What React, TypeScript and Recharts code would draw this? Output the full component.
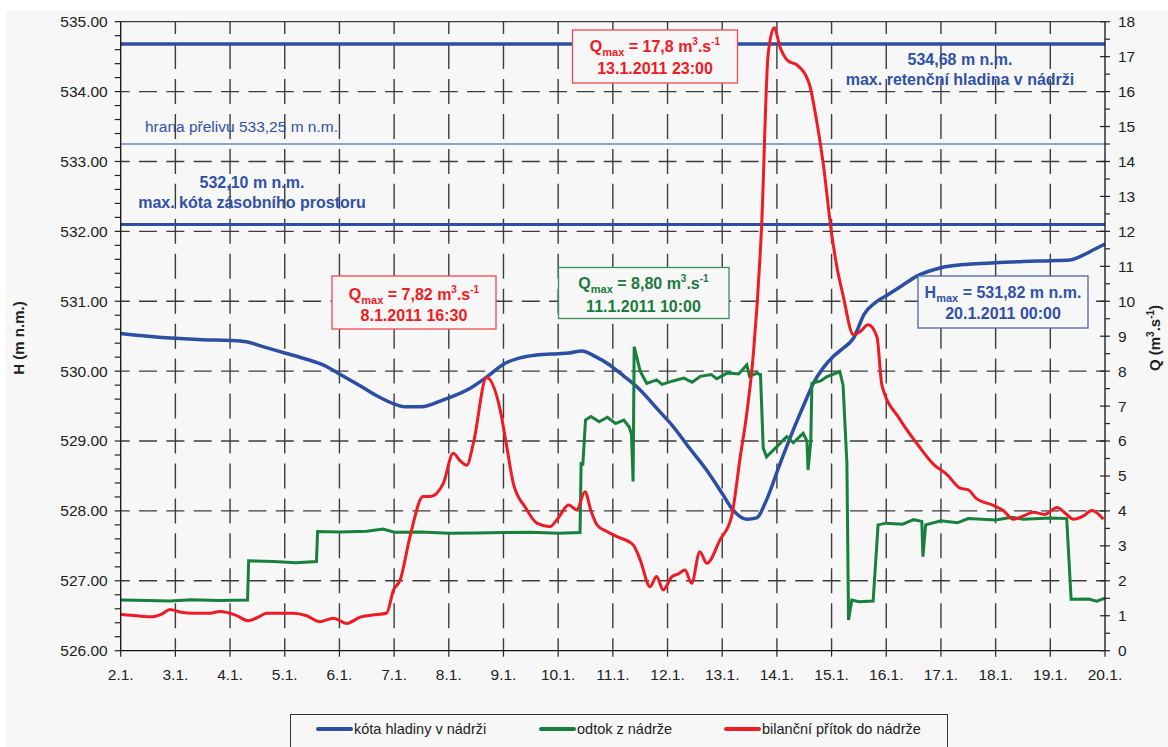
import React from 'react'
import { LineChart, Line, XAxis, YAxis, ReferenceLine } from 'recharts'

const FONT = '"Liberation Sans", Arial, sans-serif'
const BLUE = '#2c4ea3'
const GREEN = '#17803b'
const RED = '#ef1b24'
const GRID = '#3c3c3c'

// x axis: day of January 2011
const dayTicks = [2, 3, 4, 5, 6, 7, 8, 9, 10, 11, 12, 13, 14, 15, 16, 17, 18, 19, 20]
const hLabels = [526, 527, 528, 529, 530, 531, 532, 533, 534, 535]

// kóta hladiny v nádrži (m n.m.)
const levelDays = [
  2.0, 2.5, 3.0, 3.5, 4.0, 4.3, 4.6, 5.0, 5.4, 5.7, 6.0, 6.4, 6.7, 7.0, 7.2, 7.5, 7.9, 8.4, 8.7, 9.0,
  9.3, 9.6, 10.0, 10.2, 10.43, 10.7, 10.9, 11.2, 11.5, 11.8, 12.1, 12.4, 12.7, 13.0, 13.2, 13.45, 13.63,
  13.8, 14.05, 14.3, 14.5, 14.67, 14.85, 15.03, 15.2, 15.4, 15.6, 15.8, 16.0, 16.3, 16.56, 17.0, 17.5,
  18.0, 18.5, 19.0, 19.35, 19.6, 19.8, 20.0,
]
const levelValues = [
  530.54, 530.5, 530.47, 530.45, 530.44, 530.42, 530.35, 530.26, 530.17, 530.09, 529.96, 529.78, 529.64,
  529.53, 529.49, 529.49, 529.59, 529.76, 529.92, 530.1, 530.19, 530.23, 530.25, 530.26, 530.29, 530.2,
  530.11, 529.93, 529.73, 529.47, 529.21, 528.9, 528.6, 528.25, 528.01, 527.88, 527.9, 528.14, 528.66,
  529.16, 529.53, 529.83, 530.05, 530.21, 530.32, 530.47, 530.82, 530.98, 531.08, 531.23, 531.36, 531.48,
  531.53, 531.55, 531.57, 531.58, 531.59, 531.66, 531.74, 531.82,
]

// odtok z nádrže (m3/s)
const outflowDays = [
  2.0, 2.5, 2.9, 3.3, 3.8, 4.32, 4.34, 4.8, 5.2, 5.58, 5.6, 6.0, 6.5, 6.8, 7.0, 7.5, 8.0, 8.5, 9.0, 9.5,
  10.0, 10.4, 10.42, 10.45, 10.5, 10.6, 10.75, 10.9, 11.05, 11.2, 11.3, 11.34, 11.37, 11.39, 11.5, 11.62,
  11.8, 11.9, 12.1, 12.3, 12.45, 12.6, 12.8, 12.9, 13.1, 13.3, 13.45, 13.5, 13.63, 13.7, 13.75, 13.81,
  14.0, 14.18, 14.3, 14.48, 14.55, 14.57, 14.62, 14.64, 14.8, 14.91, 15.15, 15.21, 15.28, 15.31, 15.37,
  15.5, 15.76, 15.85, 16.0, 16.3, 16.5, 16.65, 16.67, 16.72, 17.0, 17.3, 17.5, 18.0, 18.3, 18.5, 19.0,
  19.3, 19.38, 19.7, 19.85, 20.0,
]
const outflowValues = [
  1.45, 1.44, 1.42, 1.46, 1.44, 1.45, 2.57, 2.55, 2.52, 2.55, 3.41, 3.4, 3.42, 3.48, 3.39, 3.4, 3.36, 3.37,
  3.38, 3.39, 3.36, 3.38, 5.4, 5.3, 6.6, 6.7, 6.55, 6.68, 6.5, 6.6, 6.4, 6.2, 4.84, 8.7, 8.0, 7.65, 7.75,
  7.62, 7.72, 7.8, 7.68, 7.85, 7.9, 7.78, 7.95, 7.92, 8.18, 7.85, 7.94, 7.9, 5.8, 5.55, 5.84, 6.13, 5.95,
  6.22, 6.0, 5.17, 6.0, 7.65, 7.72, 7.84, 7.99, 7.6, 5.36, 0.88, 1.45, 1.4, 1.42, 3.6, 3.65, 3.62, 3.75,
  3.7, 2.69, 3.6, 3.72, 3.66, 3.78, 3.74, 3.82, 3.76, 3.8, 3.78, 1.47, 1.48, 1.42, 1.5,
]

// bilanční přítok do nádrže (m3/s)
const inflowDays = [
  2.0, 2.3, 2.55, 2.75, 2.9, 3.1, 3.33, 3.6, 3.82, 4.1, 4.33, 4.5, 4.67, 5.16, 5.4, 5.64, 5.89, 6.13,
  6.38, 6.6, 6.86, 6.99, 7.11, 7.29, 7.53, 7.66, 7.9, 8.08, 8.2, 8.33, 8.45, 8.69, 8.94, 9.06, 9.18, 9.4,
  9.61, 9.85, 10.0, 10.19, 10.34, 10.49, 10.6, 10.71, 10.89, 11.1, 11.37, 11.5, 11.68, 11.8, 11.92, 12.08,
  12.2, 12.32, 12.44, 12.59, 12.72, 12.96, 13.17, 13.33, 13.45, 13.57, 13.72, 13.84, 13.95, 14.06, 14.21,
  14.36, 14.6, 14.69, 14.85, 15.0, 15.1, 15.21, 15.4, 15.52, 15.67, 15.83, 15.92, 16.25, 16.56, 16.86,
  17.11, 17.35, 17.5, 17.65, 17.96, 18.15, 18.32, 18.5, 18.69, 18.9, 19.12, 19.3, 19.42, 19.6, 19.76, 19.97,
]
const inflowValues = [
  1.04, 1.0, 0.97, 1.05, 1.18, 1.1, 1.07, 1.07, 1.12, 1.02, 0.86, 0.95, 1.07, 1.07, 1.0, 0.83, 0.93, 0.78,
  0.96, 1.02, 1.07, 1.74, 2.02, 3.26, 4.41, 4.41, 4.79, 5.65, 5.45, 5.31, 5.94, 7.82, 6.89, 5.84, 4.79,
  4.1, 3.65, 3.55, 3.8, 4.17, 4.03, 4.55, 4.0, 3.6, 3.41, 3.25, 3.03, 2.6, 1.83, 2.12, 1.74, 2.12, 2.2,
  2.31, 1.93, 2.83, 2.5, 3.17, 3.83, 5.55, 6.8, 8.5, 12.14, 17.07, 17.83, 17.26, 16.87, 16.77, 16.18,
  15.49, 13.91, 11.94, 10.96, 10.17, 9.04, 9.13, 9.33, 8.98, 7.6, 6.62, 5.93, 5.34, 5.04, 4.65, 4.6, 4.35,
  4.16, 4.0, 3.76, 3.85, 3.96, 3.9, 4.1, 3.9, 3.76, 3.85, 4.01, 3.76,
]

const levelData = levelDays.map((d, i) => ({ d, v: levelValues[i] }))
const outflowData = outflowDays.map((d, i) => ({ d, v: outflowValues[i] }))
const inflowData = inflowDays.map((d, i) => ({ d, v: inflowValues[i] }))

const hTicks: number[] = []
for (let i = 0; i <= 45; i++) hTicks.push(Math.round((526 + i * 0.2) * 10) / 10)
const qTicks: number[] = []
for (let i = 0; i <= 36; i++) qTicks.push(i * 0.5)

const isMajor = (v: number) => Math.abs(v - Math.round(v)) < 1e-6

const HTick = (props: any) => {
  const { x, y, payload } = props
  const v = payload.value
  const major = isMajor(v)
  return (
    <g>
      <line x1={x} x2={x - 6} y1={y} y2={y} stroke="#222" strokeWidth={1.2} />
      {major && (
        <text x={x - 13} y={y} dy="0.35em" textAnchor="end" fontSize={15.5} fontFamily={FONT} fill="#222">
          {v.toFixed(2)}
        </text>
      )}
    </g>
  )
}

const QTick = (props: any) => {
  const { x, y, payload } = props
  const v = payload.value
  const major = isMajor(v)
  return (
    <g>
      <line x1={major ? x - 5 : x} x2={x + 5} y1={y} y2={y} stroke="#222" strokeWidth={1.2} />
      {major && (
        <text x={x + 13} y={y} dy="0.35em" textAnchor="start" fontSize={15.5} fontFamily={FONT} fill="#222">
          {v}
        </text>
      )}
    </g>
  )
}

const DayTick = (props: any) => {
  const { x, y, payload } = props
  return (
    <g>
      <line x1={x} x2={x} y1={y} y2={y + 6} stroke="#222" strokeWidth={1.2} />
      <text x={x} y={y + 24} dy="0.35em" textAnchor="middle" fontSize={15.5} fontFamily={FONT} fill="#222">
        {`${payload.value}.1.`}
      </text>
    </g>
  )
}

const Sub = ({ children }: { children: string }) => (
  <tspan fontSize={11} dy={4}>{children}</tspan>
)

function QmaxText({ x, y, value, color }: { x: number; y: number; value: string; color: string }) {
  return (
    <text x={x} y={y} textAnchor="middle" fill={color} fontWeight="bold" fontSize={16} fontFamily={FONT}>
      Q<Sub>max</Sub>
      <tspan dy={-4}>{` = ${value} m`}</tspan>
      <tspan fontSize={10} dy={-7}>3</tspan>
      <tspan dy={7}>.s</tspan>
      <tspan fontSize={10} dy={-7}>-1</tspan>
    </text>
  )
}

function Annotations() {
  const blueText = '#3151a8'
  const common = { fontFamily: FONT, fontWeight: 'bold' as const, textAnchor: 'middle' as const }
  return (
    <svg width={1168} height={747} style={{ position: 'absolute', left: 0, top: 0, pointerEvents: 'none' }}>
      <text x={960} y={65} fontSize={16} fill={blueText} {...common}>534,68 m n.m.</text>
      <text x={960} y={85} fontSize={16} fill={blueText} {...common}>max. retenční hladina v nádrži</text>
      <text x={145} y={132} fontSize={15.5} fill={blueText} fontFamily={FONT}>hrana přelivu 533,25 m n.m.</text>
      <text x={252} y={188} fontSize={16} fill={blueText} {...common}>532,10 m n.m.</text>
      <text x={252} y={208} fontSize={16} fill={blueText} {...common}>max. kóta zásobního prostoru</text>

      <rect x={572.5} y={30} width={165} height={53} fill="#f7f7f7" stroke="#f0494f" strokeWidth={1.3} />
      <QmaxText x={655} y={51.5} value="17,8" color={RED} />
      <text x={655} y={73.5} fontSize={16} fill={RED} {...common}>13.1.2011 23:00</text>

      <rect x={332} y={276} width={164} height={53} fill="#f7f7f7" stroke="#f0494f" strokeWidth={1.3} />
      <QmaxText x={414} y={299.5} value="7,82" color={RED} />
      <text x={414} y={320.5} fontSize={16} fill={RED} {...common}>8.1.2011 16:30</text>

      <rect x={558.5} y={267.5} width={170.5} height={51} fill="#f7f7f7" stroke="#3a9058" strokeWidth={1.3} />
      <QmaxText x={643.5} y={288.5} value="8,80" color="#1c7a3c" />
      <text x={643.5} y={312} fontSize={16} fill="#1c7a3c" {...common}>11.1.2011 10:00</text>

      <rect x={918} y={276} width={170} height={52} fill="#f7f7f7" stroke="#4a66ad" strokeWidth={1.3} />
      <text x={1003} y={298} fontSize={16} fill={blueText} {...common}>
        H<Sub>max</Sub>
        <tspan dy={-4}> = 531,82 m n.m.</tspan>
      </text>
      <text x={1003} y={318.5} fontSize={16} fill={blueText} {...common}>20.1.2011 00:00</text>

      <text transform="translate(24,338) rotate(-90)" textAnchor="middle" fontSize={15} fontWeight="bold" fontFamily={FONT} fill="#222">
        H (m n.m.)
      </text>
      <text transform="translate(1160,338) rotate(-90)" textAnchor="middle" fontSize={15} fontWeight="bold" fontFamily={FONT} fill="#222">
        Q (m<tspan fontSize={10} dy={-6}>3</tspan><tspan dy={6}>.s</tspan><tspan fontSize={10} dy={-6}>-1</tspan><tspan dy={6}>)</tspan>
      </text>
    </svg>
  )
}

function LegendBox() {
  const items = [
    { label: 'kóta hladiny v nádrži', color: BLUE, x: 25 },
    { label: 'odtok z nádrže', color: GREEN, x: 248 },
    { label: 'bilanční přítok do nádrže', color: RED, x: 433 },
  ]
  return (
    <div
      style={{
        position: 'absolute',
        left: 290,
        top: 714,
        width: 658,
        height: 50,
        border: '1px solid #333',
        boxSizing: 'border-box',
        background: '#f7f7f7',
      }}
    >
      {items.map((it) => (
        <div
          key={it.label}
          style={{ position: 'absolute', left: it.x, top: 6, display: 'flex', alignItems: 'center', fontFamily: FONT, fontSize: 14.5, color: '#222' }}
        >
          <span style={{ display: 'inline-block', width: 37, height: 4, background: it.color, borderRadius: 2, marginRight: 1 }} />
          <span>{it.label}</span>
        </div>
      ))}
    </div>
  )
}

export default function App() {
  const gridV = dayTicks.slice(1, -1)
  const gridH = hLabels.slice(1, -1)
  return (
    <div style={{ position: 'absolute', left: 0, top: 0, width: 1168, height: 747, background: '#fff', overflow: 'hidden' }}>
      <div style={{ position: 'absolute', left: 6, top: 11, width: 1162, height: 736, background: '#f7f7f7' }} />
      <div style={{ position: 'absolute', left: 0, top: 0 }}>
        <LineChart width={1168} height={747} margin={{ top: 21.7, right: 0, bottom: 0, left: 0 }}>
          <XAxis
            dataKey="d"
            type="number"
            domain={[2, 20]}
            ticks={dayTicks}
            interval={0}
            tick={<DayTick />}
            tickLine={false}
            tickSize={0}
            tickMargin={0}
            height={96.3}
            axisLine={{ stroke: '#111', strokeWidth: 1.3 }}
            allowDataOverflow
          />
          <YAxis
            yAxisId="H"
            domain={[526, 535]}
            ticks={hTicks}
            interval={0}
            tick={<HTick />}
            tickLine={false}
            tickSize={0}
            tickMargin={0}
            width={120.7}
            axisLine={{ stroke: '#111', strokeWidth: 1.3 }}
            allowDataOverflow
          />
          <YAxis
            yAxisId="Q"
            orientation="right"
            domain={[0, 18]}
            ticks={qTicks}
            interval={0}
            tick={<QTick />}
            tickLine={false}
            tickSize={0}
            tickMargin={0}
            width={63}
            axisLine={{ stroke: '#111', strokeWidth: 1.3 }}
            allowDataOverflow
          />
          {gridV.map((d) => (
            <ReferenceLine
              key={`v${d}`}
              x={d}
              yAxisId="H"
              stroke={GRID}
              strokeWidth={1.4}
              strokeDasharray="25 9.95"
              strokeDashoffset={12.5}
            />
          ))}
          {gridH.map((h) => (
            <ReferenceLine
              key={`h${h}`}
              y={h}
              yAxisId="H"
              stroke={GRID}
              strokeWidth={1.4}
              strokeDasharray="18 9.34"
              strokeDashoffset={9}
            />
          ))}
          <ReferenceLine y={535} yAxisId="H" stroke={GRID} strokeWidth={1.3} />
          <ReferenceLine y={534.68} yAxisId="H" stroke={BLUE} strokeWidth={3.5} />
          <ReferenceLine y={533.25} yAxisId="H" stroke={BLUE} strokeWidth={1.2} />
          <ReferenceLine y={532.1} yAxisId="H" stroke={BLUE} strokeWidth={3} />
          <Line
            data={levelData}
            dataKey="v"
            yAxisId="H"
            type="monotone"
            stroke={BLUE}
            strokeWidth={3.5}
            dot={false}
            isAnimationActive={false}
          />
          <Line
            data={outflowData}
            dataKey="v"
            yAxisId="Q"
            type="linear"
            stroke={GREEN}
            strokeWidth={3}
            dot={false}
            isAnimationActive={false}
          />
          <Line
            data={inflowData}
            dataKey="v"
            yAxisId="Q"
            type="monotone"
            stroke={RED}
            strokeWidth={3}
            dot={false}
            isAnimationActive={false}
          />
        </LineChart>
      </div>
      <Annotations />
      <LegendBox />
    </div>
  )
}
